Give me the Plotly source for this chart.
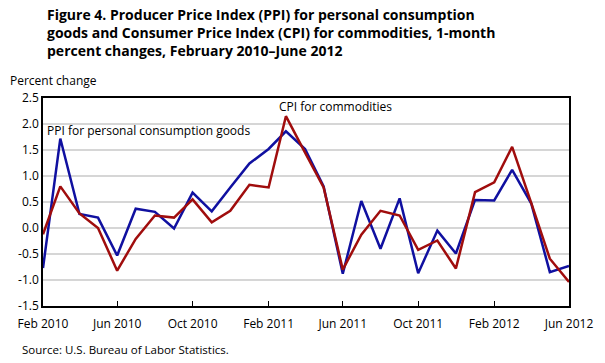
import plotly.graph_objects as go
import pandas as pd

months = pd.date_range("2010-02-01", "2012-06-01", freq="MS")

ppi = [-0.77, 1.72, 0.27, 0.20, -0.53, 0.37, 0.31, -0.01, 0.68, 0.32, 0.78, 1.24,
       1.52, 1.86, 1.52, 0.80, -0.88, 0.52, -0.40, 0.57, -0.87, -0.05, -0.49,
       0.54, 0.53, 1.12, 0.47, -0.85, -0.73]
cpi = [-0.12, 0.80, 0.28, 0.00, -0.82, -0.21, 0.24, 0.20, 0.55, 0.11, 0.33, 0.83,
       0.78, 2.15, 1.45, 0.78, -0.80, -0.13, 0.33, 0.24, -0.42, -0.24, -0.78,
       0.69, 0.88, 1.56, 0.48, -0.59, -1.04]

tick_dates = ["2010-02-01", "2010-06-01", "2010-10-01", "2011-02-01", "2011-06-01",
              "2011-10-01", "2012-02-01", "2012-06-01"]
tick_labels = ["Feb 2010", "Jun 2010", "Oct 2010", "Feb 2011", "Jun 2011",
               "Oct 2011", "Feb 2012", "Jun 2012"]
y_ticks = [2.5, 2.0, 1.5, 1.0, 0.5, 0.0, -0.5, -1.0, -1.5]

FONT = "Open Sans"

fig = go.Figure()
fig.add_trace(go.Scatter(x=months, y=ppi, mode="lines",
                         line=dict(color="#1010a0", width=2.5), name="PPI"))
fig.add_trace(go.Scatter(x=months, y=cpi, mode="lines",
                         line=dict(color="#a00d0d", width=2.5), name="CPI"))

fig.update_layout(
    width=605, height=363,
    margin=dict(l=43, r=33, t=98, b=57),
    plot_bgcolor="white", paper_bgcolor="white",
    showlegend=False,
    font=dict(family=FONT, size=12, color="black"),
    xaxis=dict(range=[months[0], months[-1]], tickvals=tick_dates, ticktext=tick_labels,
               showgrid=False, showline=True, linecolor="black", linewidth=1.5,
               mirror=True, ticks="inside", ticklen=5, tickcolor="black",
               zeroline=False, tickfont=dict(size=12), ticklabelstandoff=6),
    yaxis=dict(range=[-1.5, 2.5], tickvals=y_ticks,
               ticktext=[f"{v:.1f}" for v in y_ticks],
               showgrid=True, gridcolor="#d6d6d6", gridwidth=1.5,
               showline=True, linecolor="black", linewidth=1.5, mirror=True,
               ticks="", zeroline=False, tickfont=dict(size=12)),
)

fig.add_annotation(text="<b>Figure 4. Producer Price Index (PPI) for personal consumption<br>"
                        "goods and Consumer Price Index (CPI) for commodities, 1-month<br>"
                        "percent changes, February 2010–June 2012</b>",
                   xref="paper", yref="paper", x=0, y=1, xanchor="left", yanchor="top",
                   align="left", showarrow=False, font=dict(size=14, family=FONT),
                   xshift=2, yshift=95)
fig.add_annotation(text="Percent change", xref="paper", yref="paper", x=0, y=1,
                   xanchor="left", yanchor="middle", showarrow=False,
                   font=dict(size=12), xshift=-35, yshift=18)
fig.add_annotation(text="PPI for personal consumption goods", xref="paper", yref="y",
                   x=0, y=2.0, xanchor="left", yanchor="middle", showarrow=False,
                   font=dict(size=12), xshift=2, yshift=-6)
fig.add_annotation(text="CPI for commodities", xref="x", yref="y",
                   x=months[13], y=2.34, xanchor="left", yanchor="middle", showarrow=False,
                   font=dict(size=12), xshift=-9)
fig.add_annotation(text="Source: U.S. Bureau of Labor Statistics.", xref="paper", yref="paper",
                   x=0, y=0, xanchor="left", yanchor="middle", showarrow=False,
                   font=dict(size=11.5), xshift=-23, yshift=-43)

fig.write_html("out.html", config={"displayModeBar": False},
               post_script="document.body.style.margin='0';")
